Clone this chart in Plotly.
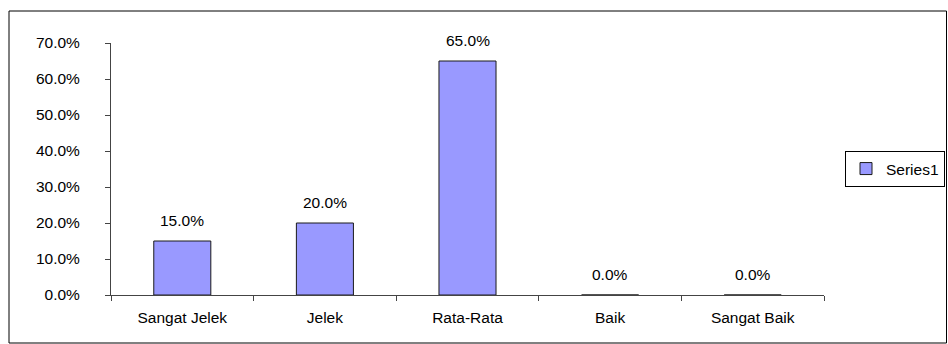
import plotly.graph_objects as go

categories = ["Sangat Jelek", "Jelek", "Rata-Rata", "Baik", "Sangat Baik"]
values = [0.15, 0.20, 0.65, 0.0, 0.0]
series_name = "Series1"

L, R, T, B = 111, 124, 43, 49
W, H = 948, 344
pw, ph = W - L - R, H - T - B

def px(x):
    return (x - L) / pw

def py(y):
    return (H - B - y) / ph

FS = 15.5

fig = go.Figure(go.Bar(
    x=categories, y=values, name=series_name,
    marker=dict(color="#9999FF", line=dict(color="#1a1a1a", width=1)),
))

for c, v in zip(categories, values):
    fig.add_annotation(x=c, y=v, text=f"{v:.1%}", showarrow=False,
                       yanchor="middle", yshift=21,
                       font=dict(size=FS, color="black"))

fig.update_layout(
    width=W, height=H,
    margin=dict(l=L, r=R, t=T, b=B, autoexpand=False),
    paper_bgcolor="white", plot_bgcolor="white",
    font=dict(family="Liberation Sans, Arial", size=FS, color="black"),
    bargap=0.6,
    showlegend=True,
    legend=dict(xref="container", yref="container", x=845 / W, y=(H - 169) / H,
                xanchor="left", yanchor="middle",
                bordercolor="black", borderwidth=1, bgcolor="white",
                font=dict(size=FS)),
    xaxis=dict(showline=True, linecolor="#444", linewidth=1,
               ticks="outside", ticklen=5, tickcolor="#444",
               showgrid=False, tickson="boundaries", ticklabelstandoff=8),
    yaxis=dict(range=[0, 0.7], dtick=0.1, tickformat=".1%",
               showline=True, linecolor="#444", linewidth=1,
               ticks="outside", ticklen=5, tickcolor="#444",
               showgrid=False, zeroline=False, ticklabelstandoff=22),
    shapes=[dict(type="rect", xref="paper", yref="paper",
                 x0=px(9), x1=px(946.5), y0=py(11), y1=py(343),
                 line=dict(color="black", width=1), fillcolor="rgba(0,0,0,0)")],
)

fig.write_html("out.html")
